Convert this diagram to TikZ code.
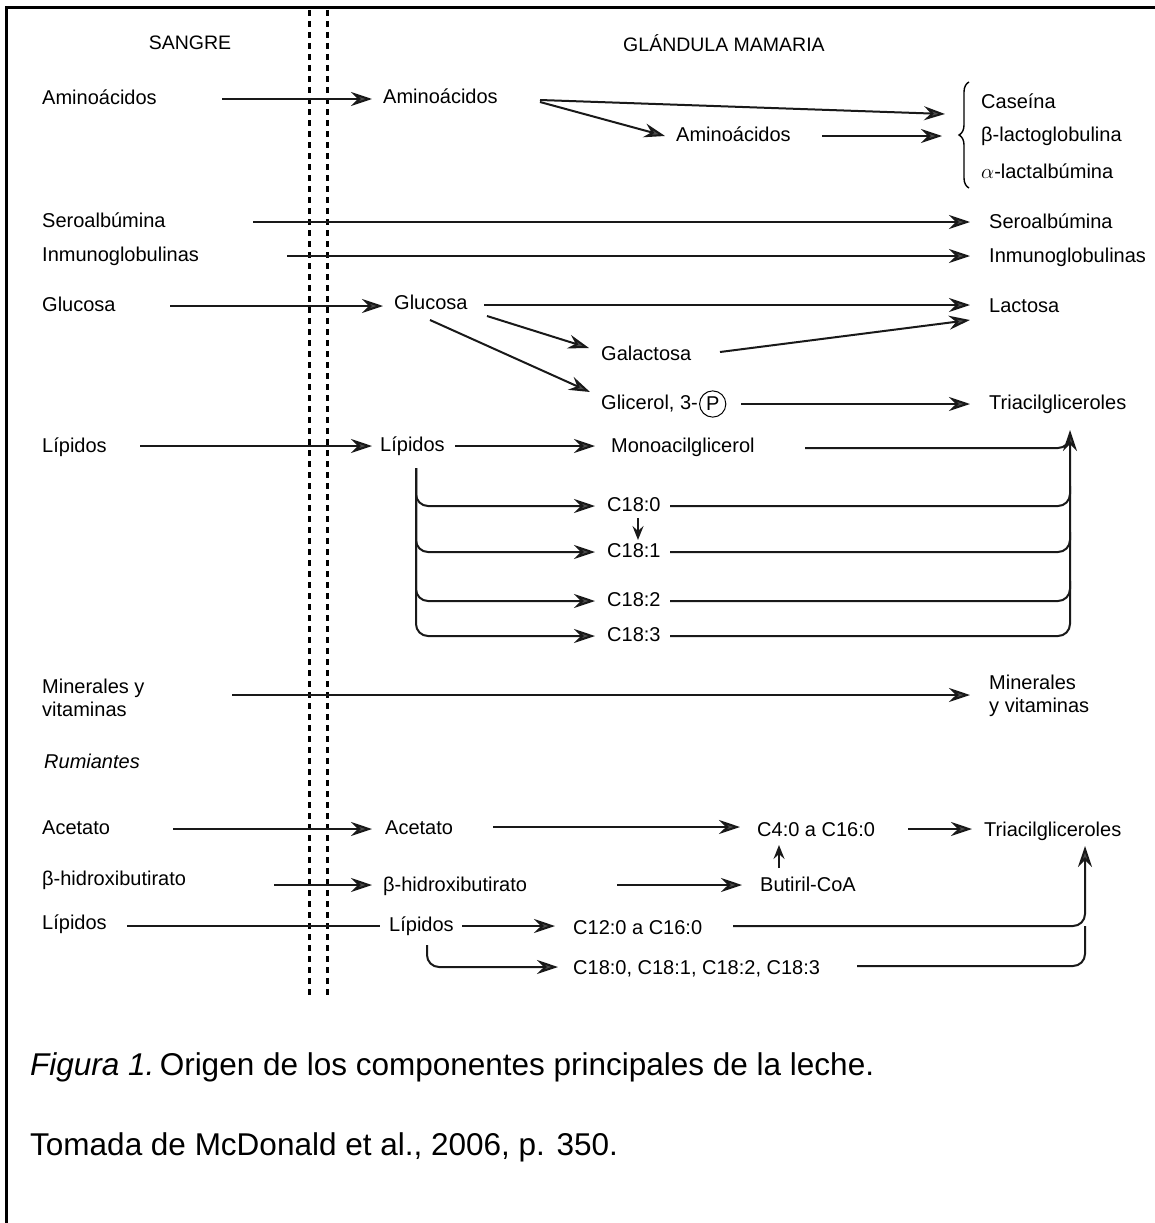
\documentclass[tikz,border=0pt]{standalone}
\usepackage{fontspec}
\setmainfont{Liberation Sans}
\usetikzlibrary{arrows.meta,calc,decorations.pathreplacing}
\begin{document}
\begin{tikzpicture}[x=1pt,y=-1pt,
  lab/.style={anchor=west, inner sep=0pt, font=\fontsize{20}{24}\selectfont, text height=14pt, text depth=4pt},
  lab2/.style={anchor=west, inner sep=0pt, font=\fontsize{20}{23}\selectfont, align=left},
  hdr/.style={inner sep=0pt, font=\fontsize{19.5}{23}\selectfont},
  capt/.style={anchor=west, inner sep=0pt, font=\fontsize{31.5}{38}\selectfont},
  ar/.style={line width=2pt, draw=black!90, -{Stealth[length=21pt,width=14pt,inset=7pt,fill=black!70]}},
  sar/.style={line width=2pt, draw=black!90, -{Stealth[length=14pt,width=11pt,inset=5pt,fill=black!70]}},
  ln/.style={line width=2pt, draw=black!90},
  sep/.style={line width=3pt, dash pattern=on 6pt off 5pt},
  frame/.style={line width=3pt}]
\useasboundingbox (0,0) rectangle (1155,1223);
\fill[white] (0,0) rectangle (1155,1223);
% frame
\draw[frame] (6,1223) -- (6,8) -- (1155,8);
% separators
\draw[sep] (309,10) -- (309,998);
\draw[sep] (327,10) -- (327,998);
% headers
\node[hdr] (hS) at (190,43) {SANGRE};
\node[hdr] (hG) at (724,43) {GLÁNDULA MAMARIA};
% blood side
\node[lab] (sA) at (42,99) {Aminoácidos};
\node[lab] (sS) at (42,222) {Seroalbúmina};
\node[lab] (sI) at (42,256) {Inmunoglobulinas};
\node[lab] (sG) at (42,306) {Glucosa};
\node[lab] (sL) at (42,447) {Lípidos};
\node[lab2] (sM) at (42,698) {Minerales y\\vitaminas};
\node[lab] (rum) at (44,763) {\itshape Rumiantes};
\node[lab] (sAc) at (42,829) {Acetato};
\node[lab] (sB) at (42,880) {β-hidroxibutirato};
\node[lab] (sL2) at (42,924) {Lípidos};
% gland side
\node[lab] (gA) at (383,98) {Aminoácidos};
\node[lab] (gA2) at (676,136) {Aminoácidos};
\node[lab] (cas) at (981,103) {Caseína};
\node[lab] (blg) at (981,136) {β-lactoglobulina};
\node[lab] (alb) at (981,173) {$\alpha$-lactalbúmina};
\node[lab] (rS) at (989,223) {Seroalbúmina};
\node[lab] (rI) at (989,257) {Inmunoglobulinas};
\node[lab] (gG) at (394,304) {Glucosa};
\node[lab] (lac) at (989,307) {Lactosa};
\node[lab] (gal) at (601,355) {Galactosa};
\node[lab] (gli) at (601,404) {Glicerol, 3-};
\node[draw, circle, line width=1pt, inner sep=2.5pt, anchor=west, font=\fontsize{20}{24}\selectfont] (glip) at ($(gli.east)+(1,0)$) {P};
\node[lab] (tri) at (989,404) {Triacilgliceroles};
\node[lab] (gL) at (380,446) {Lípidos};
\node[lab] (mono) at (611,447) {Monoacilglicerol};
\node[lab] (c180) at (607,506) {C18:0};
\node[lab] (c181) at (607,552) {C18:1};
\node[lab] (c182) at (607,601) {C18:2};
\node[lab] (c183) at (607,636) {C18:3};
\node[lab2] (rM) at (989,696) {Minerales\\y vitaminas};
\node[lab] (acet) at (385,829) {Acetato};
\node[lab] (c4) at (757,831) {C4:0 a C16:0};
\node[lab] (tri2) at (984,831) {Triacilgliceroles};
\node[lab] (bh) at (383,886) {β-hidroxibutirato};
\node[lab] (but) at (760,886) {Butiril-CoA};
\node[lab] (gL2) at (389,926) {Lípidos};
\node[lab] (c12) at (573,929) {C12:0 a C16:0};
\node[lab] (c18x) at (573,969) {C18:0, C18:1, C18:2, C18:3};
% brace
\draw[line width=1.4pt, decorate, decoration={brace, amplitude=10pt}] (969,188) -- (969,82);
% tips
\coordinate (tipT) at ($(tri.west)+(81,26)$);
\coordinate (tip2) at ($(tri2.west)+(101,15)$);
% connectors
\draw[ar] ($(sA.west)+(180,0)$) -- ($(gA.west)+(-11,1)$);
\draw[ar] ($(gA.west)+(157,2)$) -- ($(cas.west)+(-36,11)$);
\draw[ar] ($(gA.west)+(157,4)$) -- ($(gA2.west)+(-11,0)$);
\draw[ar] ($(gA2.west)+(146,0)$) -- ($(blg.west)+(-39,0)$);
\draw[ar] ($(sS.west)+(211,0)$) -- ($(rS.west)+(-19,-1)$);
\draw[ar] ($(sI.west)+(245,0)$) -- ($(rI.west)+(-19,-1)$);
\draw[ar] ($(sG.west)+(128,0)$) -- ($(gG.west)+(-11,2)$);
\draw[ar] ($(gG.west)+(90,1)$) -- ($(lac.west)+(-19,-2)$);
\draw[ar] ($(gG.west)+(93,12)$) -- ($(gal.west)+(-12,-7)$);
\draw[ar] ($(gal.west)+(119,-3)$) -- ($(lac.west)+(-19,13)$);
\draw[ar] ($(gG.west)+(36,16)$) -- ($(gli.west)+(-11,-12)$);
\draw[ar] ($(glip.east)+(15,0)$) -- ($(tri.west)+(-19,0)$);
\draw[ar] ($(sL.west)+(98,-1)$) -- ($(gL.west)+(-8,0)$);
\draw[ar] ($(gL.west)+(75,0)$) -- ($(mono.west)+(-16,-1)$);
% lipid branches
\draw[ar, rounded corners=12pt] ($(gL.west)+(36,22)$) |- ($(c180.west)+(-12,0)$);
\draw[ar, rounded corners=12pt] ($(gL.west)+(36,22)$) |- ($(c181.west)+(-12,0)$);
\draw[ar, rounded corners=12pt] ($(gL.west)+(36,22)$) |- ($(c182.west)+(-12,0)$);
\draw[ar, rounded corners=12pt] ($(gL.west)+(36,22)$) |- ($(c183.west)+(-12,0)$);
\draw[sar] ($(c180.west)+(31,12)$) -- ($(c181.west)+(31,-12)$);
% to triacilgliceroles
\draw[ar, rounded corners=12pt] ($(c183.west)+(63,0)$) -- (c183.west -| tipT) -- (tipT);
\draw[ln, rounded corners=12pt] ($(c182.west)+(63,0)$) -- (c182.west -| tipT) -- ++(0,-20);
\draw[ln, rounded corners=12pt] ($(c181.west)+(63,0)$) -- (c181.west -| tipT) -- ++(0,-20);
\draw[ln, rounded corners=12pt] ($(c180.west)+(63,0)$) -- (c180.west -| tipT) -- ++(0,-20);
\draw[ln, rounded corners=12pt] ($(mono.west)+(194,1)$) -- ($(mono.west -| tipT)+(0,1)$) -- ++(0,-10);
% minerals
\draw[ar] ($(sM.west)+(190,-3)$) -- ($(rM.west)+(-19,-1)$);
% ruminants
\draw[ar] ($(sAc.west)+(131,0)$) -- ($(acet.west)+(-13,0)$);
\draw[ar] ($(acet.west)+(108,-2)$) -- ($(c4.west)+(-17,-4)$);
\draw[ar] ($(c4.west)+(151,-2)$) -- ($(tri2.west)+(-12,-2)$);
\draw[ar] ($(sB.west)+(232,5)$) -- ($(bh.west)+(-11,-1)$);
\draw[ar] ($(bh.west)+(234,-1)$) -- ($(but.west)+(-18,-1)$);
\draw[sar] ($(but.west)+(19,-18)$) -- ($(c4.west)+(22,14)$);
\draw[ln] ($(sL2.west)+(85,2)$) -- ($(gL2.west)+(-9,0)$);
\draw[ar] ($(gL2.west)+(73,0)$) -- ($(c12.west)+(-18,-3)$);
\draw[ar, rounded corners=12pt] ($(gL2.west)+(38,19)$) |- ($(c18x.west)+(-15,-2)$);
\draw[ar, rounded corners=12pt] ($(c12.west)+(160,-3)$) -- ($(c12.west -| tip2)+(0,-3)$) -- (tip2);
\draw[ln, rounded corners=12pt] ($(c18x.west)+(284,-3)$) -- ($(c18x.west -| tip2)+(0,-3)$) -- ++(0,-40);
% caption
\node[capt] (cap1) at (30,1067) {\textit{Figura 1.}\,Origen de los componentes principales de la leche.};
\node[capt] (cap2) at (30,1147) {Tomada de McDonald et al., 2006, p. 350.};
\end{tikzpicture}
\end{document}
